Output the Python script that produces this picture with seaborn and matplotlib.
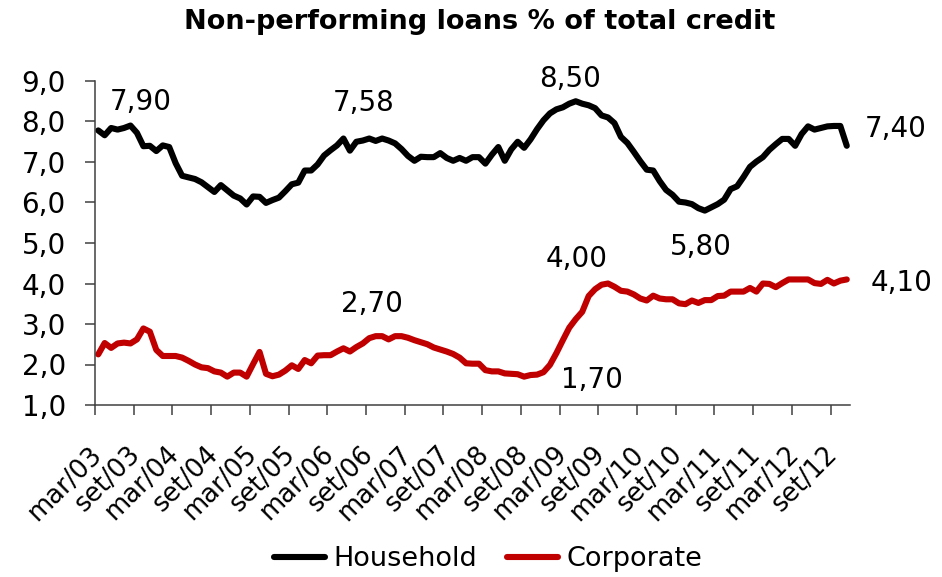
import numpy as np
import pandas as pd
import matplotlib
matplotlib.use("Agg")
import matplotlib.pyplot as plt
import matplotlib.transforms as mtransforms
import seaborn as sns
from matplotlib.lines import Line2D

# Monthly NPL ratios, mar/03 .. nov/12 (% of total credit)
household = [
    7.78, 7.66, 7.84, 7.80, 7.84, 7.90, 7.72, 7.39, 7.40, 7.27, 7.41, 7.37,
    6.97, 6.66, 6.62, 6.58, 6.50, 6.38, 6.26, 6.43, 6.30, 6.17, 6.10, 5.95,
    6.15, 6.14, 5.99, 6.06, 6.12, 6.28, 6.45, 6.49, 6.79, 6.79, 6.94, 7.16,
    7.29, 7.41, 7.58, 7.28, 7.50, 7.53, 7.58, 7.52, 7.58, 7.53, 7.46, 7.32,
    7.15, 7.03, 7.13, 7.12, 7.12, 7.22, 7.10, 7.03, 7.10, 7.03, 7.12, 7.12,
    6.96, 7.18, 7.37, 7.03, 7.31, 7.50, 7.35, 7.56, 7.81, 8.03, 8.20, 8.30,
    8.35, 8.44, 8.50, 8.44, 8.40, 8.33, 8.15, 8.10, 7.96, 7.62, 7.47, 7.25,
    7.02, 6.81, 6.79, 6.53, 6.31, 6.19, 6.02, 6.00, 5.96, 5.86, 5.80, 5.88,
    5.96, 6.07, 6.33, 6.40, 6.63, 6.88, 7.01, 7.12, 7.30, 7.44, 7.57, 7.57,
    7.40, 7.69, 7.88, 7.80, 7.84, 7.88, 7.89, 7.89, 7.40,
]
corporate = [
    2.25, 2.53, 2.41, 2.52, 2.54, 2.52, 2.62, 2.89, 2.81, 2.36, 2.21, 2.21,
    2.21, 2.17, 2.09, 2.00, 1.93, 1.91, 1.83, 1.80, 1.70, 1.80, 1.80, 1.70,
    2.01, 2.31, 1.77, 1.71, 1.75, 1.85, 1.98, 1.89, 2.11, 2.03, 2.22, 2.23,
    2.23, 2.32, 2.40, 2.32, 2.43, 2.52, 2.65, 2.70, 2.70, 2.62, 2.70, 2.70,
    2.66, 2.60, 2.55, 2.50, 2.42, 2.37, 2.32, 2.26, 2.17, 2.03, 2.02, 2.02,
    1.86, 1.83, 1.83, 1.78, 1.77, 1.76, 1.70, 1.74, 1.75, 1.81, 1.99, 2.28,
    2.60, 2.91, 3.12, 3.30, 3.69, 3.86, 3.97, 4.00, 3.92, 3.82, 3.80, 3.73,
    3.63, 3.58, 3.70, 3.63, 3.61, 3.61, 3.51, 3.49, 3.58, 3.52, 3.59, 3.59,
    3.69, 3.70, 3.80, 3.80, 3.80, 3.89, 3.80, 4.00, 3.99, 3.91, 4.01, 4.10,
    4.10, 4.10, 4.10, 4.01, 3.99, 4.09, 4.00, 4.07, 4.10,
]
series_names = ["Household", "Corporate"]
x_tick_labels = [
    "mar/03", "set/03", "mar/04", "set/04", "mar/05", "set/05", "mar/06",
    "set/06", "mar/07", "set/07", "mar/08", "set/08", "mar/09", "set/09",
    "mar/10", "set/10", "mar/11", "set/11", "mar/12", "set/12",
]
y_ticks = [1, 2, 3, 4, 5, 6, 7, 8, 9]
y_tick_labels = ["1,0", "2,0", "3,0", "4,0", "5,0", "6,0", "7,0", "8,0", "9,0"]

n = len(household)
df = pd.DataFrame({
    "month": np.tile(np.arange(n), 2),
    "value": household + corporate,
    "series": np.repeat(series_names, n),
})

sns.set_style("white")
plt.rcParams["font.family"] = ["DejaVu Sans"]
plt.rcParams["text.color"] = "black"
plt.rcParams["xtick.color"] = "black"
plt.rcParams["ytick.color"] = "black"
palette = {"Household": "#000000", "Corporate": "#C00000"}

fig = plt.figure(figsize=(9.42, 5.77), dpi=100)
ax = fig.add_axes([95 / 942, 172 / 577, 755 / 942, 324 / 577])

sns.lineplot(data=df, x="month", y="value", hue="series", palette=palette,
             linewidth=4.4, ax=ax, legend=False, sort=False)
for line in ax.get_lines():
    line.set_solid_capstyle("round")
    line.set_solid_joinstyle("round")

ax.set_xlim(-0.5, n - 0.5)
ax.set_ylim(1, 9)
ax.set_xlabel("")
ax.set_ylabel("")

# category labels sit on every sixth month; tick marks fall between categories
ax.set_xticks(np.arange(0, len(x_tick_labels) * 6, 6))
ax.set_xticklabels(x_tick_labels, rotation=45, ha="right", va="center",
                   rotation_mode="anchor", fontsize=18.5)
shift = mtransforms.ScaledTranslation(5 / 100, 0, fig.dpi_scale_trans)
for lbl in ax.get_xticklabels():
    lbl.set_transform(lbl.get_transform() + shift)
ax.set_xticks(np.arange(len(x_tick_labels)) * 6 - 0.5, minor=True)
ax.tick_params(axis="x", which="major", length=0, pad=32.5)
ax.tick_params(axis="x", which="minor", length=7, width=1.1,
               color="#404040", direction="out", bottom=True)

ax.set_yticks(y_ticks)
ax.set_yticklabels(y_tick_labels, fontsize=20)
ax.tick_params(axis="y", length=7, width=1.1, color="#404040",
               direction="out", pad=14, left=True)

sns.despine(ax=ax)
for side in ("left", "bottom"):
    ax.spines[side].set_color("#404040")
    ax.spines[side].set_linewidth(1.1)

# value call-outs: (series, month index, pixel offset, alignment)
callouts = [
    (household, 5, (10, 24), "center"),
    (household, 38, (20, 36), "center"),
    (household, 74, (-6, 22), "center"),
    (household, 94, (-4, -36), "center"),
    (household, n - 1, (18, 17), "left"),
    (corporate, 43, (-4, 32), "center"),
    (corporate, 79, (-31, 25), "center"),
    (corporate, 66, (68, -3), "center"),
    (corporate, n - 1, (24, -4), "left"),
]
for values, idx, offset, align in callouts:
    val = values[idx]
    ax.annotate(f"{val:.2f}".replace(".", ","), xy=(idx, val),
                xytext=offset, textcoords="offset pixels",
                ha=align, va="center", fontsize=20, color="black",
                annotation_clip=False)

fig.suptitle("Non-performing loans % of total credit", x=480 / 942,
             y=1 - 22 / 577, va="center", ha="center",
             fontsize=19.5, fontweight="bold", color="black")

handles = [Line2D([0], [0], color=palette[s], linewidth=4.4,
                  solid_capstyle="round") for s in series_names]
fig.legend(handles, series_names, loc="center", ncol=2,
           bbox_to_anchor=(488 / 942, 18 / 577), frameon=False,
           fontsize=19.5, handlelength=1.9, handletextpad=0.3,
           columnspacing=1.1)

fig.savefig("out.png", dpi=100)
